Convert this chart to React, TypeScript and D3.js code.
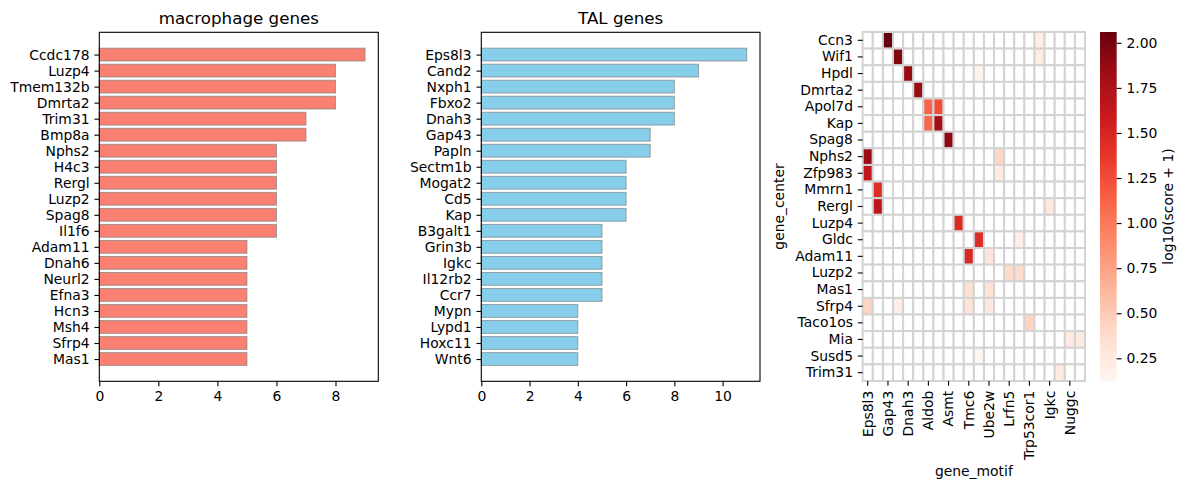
import React, { useEffect, useRef } from 'react';
import * as d3 from 'd3';

// top genes per cell type (number of hits)
const macroGenes = ['Ccdc178', 'Luzp4', 'Tmem132b', 'Dmrta2', 'Trim31', 'Bmp8a', 'Nphs2', 'H4c3', 'Rergl', 'Luzp2',
    'Spag8', 'Il1f6', 'Adam11', 'Dnah6', 'Neurl2', 'Efna3', 'Hcn3', 'Msh4', 'Sfrp4', 'Mas1'];
const macroCounts = [9, 8, 8, 8, 7, 7, 6, 6, 6, 6, 6, 6, 5, 5, 5, 5, 5, 5, 5, 5];

const talGenes = ['Eps8l3', 'Cand2', 'Nxph1', 'Fbxo2', 'Dnah3', 'Gap43', 'Papln', 'Sectm1b', 'Mogat2', 'Cd5',
    'Kap', 'B3galt1', 'Grin3b', 'Igkc', 'Il12rb2', 'Ccr7', 'Mypn', 'Lypd1', 'Hoxc11', 'Wnt6'];
const talCounts = [11, 9, 8, 8, 8, 7, 7, 6, 6, 6, 6, 5, 5, 5, 5, 5, 4, 4, 4, 4];

// heatmap: gene_center x gene_motif, log10(score + 1)
const centerGenes = ['Ccn3', 'Wif1', 'Hpdl', 'Dmrta2', 'Apol7d', 'Kap', 'Spag8', 'Nphs2', 'Zfp983', 'Mmrn1', 'Rergl',
    'Luzp4', 'Gldc', 'Adam11', 'Luzp2', 'Mas1', 'Sfrp4', 'Taco1os', 'Mia', 'Susd5', 'Trim31'];
const motifGenes = ['Eps8l3', 'Cand2', 'Gap43', 'Nxph1', 'Dnah3', 'Fbxo2', 'Aldob', 'Papln', 'Asmt', 'Sectm1b', 'Tmc6',
    'Mogat2', 'Ube2w', 'Cd5', 'Lrfn5', 'Grin3b', 'Trp53cor1', 'Il12rb2', 'Igkc', 'Ccr7', 'Nuggc', 'Mypn'];
const motifScores: [string, string, number][] = [
    ['Ccn3', 'Gap43', 2.06], ['Ccn3', 'Il12rb2', 0.2],
    ['Wif1', 'Nxph1', 1.95], ['Wif1', 'Il12rb2', 0.22],
    ['Hpdl', 'Dnah3', 1.85], ['Hpdl', 'Mogat2', 0.15],
    ['Dmrta2', 'Fbxo2', 1.86],
    ['Apol7d', 'Aldob', 1.12], ['Apol7d', 'Papln', 1.25],
    ['Kap', 'Aldob', 1.1], ['Kap', 'Papln', 1.8],
    ['Spag8', 'Asmt', 1.9],
    ['Nphs2', 'Eps8l3', 1.83], ['Nphs2', 'Cd5', 0.42],
    ['Zfp983', 'Eps8l3', 1.65], ['Zfp983', 'Cd5', 0.24],
    ['Mmrn1', 'Cand2', 1.44],
    ['Rergl', 'Cand2', 1.66], ['Rergl', 'Igkc', 0.28],
    ['Luzp4', 'Sectm1b', 1.46],
    ['Gldc', 'Mogat2', 1.45], ['Gldc', 'Grin3b', 0.2],
    ['Adam11', 'Tmc6', 1.47], ['Adam11', 'Ube2w', 0.3],
    ['Luzp2', 'Lrfn5', 0.38], ['Luzp2', 'Grin3b', 0.38],
    ['Mas1', 'Tmc6', 0.34], ['Mas1', 'Ube2w', 0.32],
    ['Sfrp4', 'Eps8l3', 0.42], ['Sfrp4', 'Nxph1', 0.2], ['Sfrp4', 'Tmc6', 0.32], ['Sfrp4', 'Ube2w', 0.28],
    ['Taco1os', 'Trp53cor1', 0.44],
    ['Mia', 'Nuggc', 0.24], ['Mia', 'Mypn', 0.25],
    ['Susd5', 'Mogat2', 0.124],
    ['Trim31', 'Ccr7', 0.24],
];
const colorbarTicks = [0.25, 0.5, 0.75, 1.0, 1.25, 1.5, 1.75, 2.0];

const W = 1187;
const H = 490;
const FONT = 'DejaVu Sans, sans-serif';
const TICK = 4.86;
const top = 32.3;
const bottom = 381.3;

function drawBars(svg, genes: string[], counts: number[], x0: number, x1: number, fill: string, title: string) {
    const n = genes.length;
    const g = svg.append('g').attr('font-family', FONT);

    const x = d3.scaleLinear()
        .domain([0, d3.max(counts) * 1.05])
        .range([x0, x1]);

    // bar i spans i-0.4..i+0.4, 5% margins, inverted
    const y = d3.scaleLinear()
        .domain([-0.4 - 0.99, n - 0.6 + 0.99])
        .range([top, bottom]);

    g.selectAll('rect.bar')
        .data(counts)
        .join('rect')
            .attr('class', 'bar')
            .attr('x', x(0))
            .attr('y', (d, i) => y(i - 0.4))
            .attr('width', d => x(d) - x(0))
            .attr('height', y(0.8) - y(0))
            .attr('fill', fill)
            .attr('stroke', 'grey')
            .attr('stroke-opacity', 0.7)
            .attr('stroke-width', 1);

    const xAxis = g.append('g')
        .attr('transform', `translate(0, ${bottom})`)
        .call(d3.axisBottom(x).ticks(5).tickSize(TICK).tickPadding(TICK).tickSizeOuter(0));
    xAxis.select('.domain').remove();

    const yAxis = g.append('g')
        .attr('transform', `translate(${x0}, 0)`)
        .call(d3.axisLeft(d3.scaleLinear().domain(y.domain()).range(y.range()))
            .tickValues(d3.range(n))
            .tickFormat(i => genes[i])
            .tickSize(TICK).tickPadding(TICK).tickSizeOuter(0));
    yAxis.select('.domain').remove();

    [xAxis, yAxis].forEach(a => {
        a.attr('font-size', 13.9).attr('font-family', FONT);
        a.selectAll('line').attr('stroke-width', 1.1);
        a.selectAll('text').attr('fill', '#000');
    });

    g.append('rect')
        .attr('x', x0).attr('y', top)
        .attr('width', x1 - x0).attr('height', bottom - top)
        .attr('fill', 'none').attr('stroke', '#000').attr('stroke-width', 1.1);

    g.append('text')
        .attr('x', (x0 + x1) / 2).attr('y', top - 8.3)
        .attr('text-anchor', 'middle')
        .attr('font-size', 16.7)
        .text(title);
}

function drawHeatmap(svg) {
    const hx0 = 862.7, hx1 = 1085, hy0 = 32, hy1 = 381;
    const g = svg.append('g').attr('font-family', FONT);

    const x = d3.scaleBand().domain(motifGenes).range([hx0, hx1]);
    const y = d3.scaleBand().domain(centerGenes).range([hy0, hy1]);

    const vals = motifScores.map(d => d[2]);
    const vmin = d3.min(vals), vmax = d3.max(vals);
    const color = d3.scaleSequential(d3.interpolateReds).domain([vmin, vmax]);

    const lookup = new Map(motifScores.map(d => [d[0] + '|' + d[1], d[2]]));
    const cells = centerGenes.flatMap(r => motifGenes.map(c => ({ r, c, v: lookup.get(r + '|' + c) })));

    g.selectAll('rect.cell')
        .data(cells)
        .join('rect')
            .attr('class', 'cell')
            .attr('x', d => x(d.c))
            .attr('y', d => y(d.r))
            .attr('width', x.bandwidth())
            .attr('height', y.bandwidth())
            .attr('fill', d => d.v === undefined ? '#fff' : color(d.v))
            .attr('stroke', 'lightgray')
            .attr('stroke-width', 2);

    // row labels
    const rows = g.append('g');
    rows.selectAll('line')
        .data(centerGenes)
        .join('line')
            .attr('x1', hx0 - TICK).attr('x2', hx0)
            .attr('y1', d => y(d) + y.bandwidth() / 2).attr('y2', d => y(d) + y.bandwidth() / 2)
            .attr('stroke', '#000').attr('stroke-width', 1.1);
    rows.selectAll('text')
        .data(centerGenes)
        .join('text')
            .attr('x', hx0 - 2 * TICK)
            .attr('y', d => y(d) + y.bandwidth() / 2)
            .attr('dy', '0.32em')
            .attr('text-anchor', 'end')
            .attr('font-size', 13.9)
            .text(d => d);

    // every other motif gets a label
    const shown = motifGenes.filter((d, i) => i % 2 === 0);
    const cols = g.append('g');
    cols.selectAll('line')
        .data(shown)
        .join('line')
            .attr('x1', d => x(d) + x.bandwidth() / 2).attr('x2', d => x(d) + x.bandwidth() / 2)
            .attr('y1', hy1).attr('y2', hy1 + TICK)
            .attr('stroke', '#000').attr('stroke-width', 1.1);
    cols.selectAll('text')
        .data(shown)
        .join('text')
            .attr('transform', d => `translate(${x(d) + x.bandwidth() / 2}, ${hy1 + 2 * TICK}) rotate(-90)`)
            .attr('dy', '0.35em')
            .attr('text-anchor', 'end')
            .attr('font-size', 13.9)
            .text(d => d);

    g.append('text')
        .attr('x', (hx0 + hx1) / 2).attr('y', 476)
        .attr('text-anchor', 'middle').attr('font-size', 13.9)
        .text('gene_motif');

    g.append('text')
        .attr('transform', `translate(784, ${(hy0 + hy1) / 2}) rotate(-90)`)
        .attr('text-anchor', 'middle').attr('font-size', 13.9)
        .text('gene_center');

    // colorbar
    const cx0 = 1100, cx1 = 1116.7;
    const cy = d3.scaleLinear().domain([vmin, vmax]).range([hy1, hy0]);
    const grad = svg.append('defs').append('linearGradient')
        .attr('id', 'reds-grad')
        .attr('x1', 0).attr('y1', 1).attr('x2', 0).attr('y2', 0);
    grad.selectAll('stop')
        .data(d3.range(0, 1.0001, 0.05))
        .join('stop')
            .attr('offset', d => d)
            .attr('stop-color', d => d3.interpolateReds(d));
    g.append('rect')
        .attr('x', cx0).attr('y', hy0)
        .attr('width', cx1 - cx0).attr('height', hy1 - hy0)
        .attr('fill', 'url(#reds-grad)');

    const cbAxis = g.append('g')
        .attr('transform', `translate(${cx1}, 0)`)
        .call(d3.axisRight(cy).tickValues(colorbarTicks).tickFormat(d3.format('.2f'))
            .tickSize(TICK).tickPadding(TICK).tickSizeOuter(0));
    cbAxis.select('.domain').remove();
    cbAxis.attr('font-size', 13.9).attr('font-family', FONT);
    cbAxis.selectAll('line').attr('stroke-width', 1.1);
    cbAxis.selectAll('text').attr('fill', '#000');

    g.append('text')
        .attr('transform', `translate(1173, ${(hy0 + hy1) / 2}) rotate(-90)`)
        .attr('text-anchor', 'middle').attr('font-size', 13.9)
        .text('log10(score + 1)');
}

export default function App() {
    const svgRef = useRef(null);

    useEffect(() => {
        const svg = d3.select(svgRef.current);
        svg.selectAll('*').remove();

        drawBars(svg, macroGenes, macroCounts, 99.3, 378.3, 'salmon', 'macrophage genes');
        drawBars(svg, talGenes, talCounts, 481.3, 760, 'skyblue', 'TAL genes');
        drawHeatmap(svg);
    }, []);

    return (
        <svg ref={svgRef} width={W} height={H}
            style={{ position: 'absolute', left: 0, top: 0, background: '#fff' }} />
    );
}
